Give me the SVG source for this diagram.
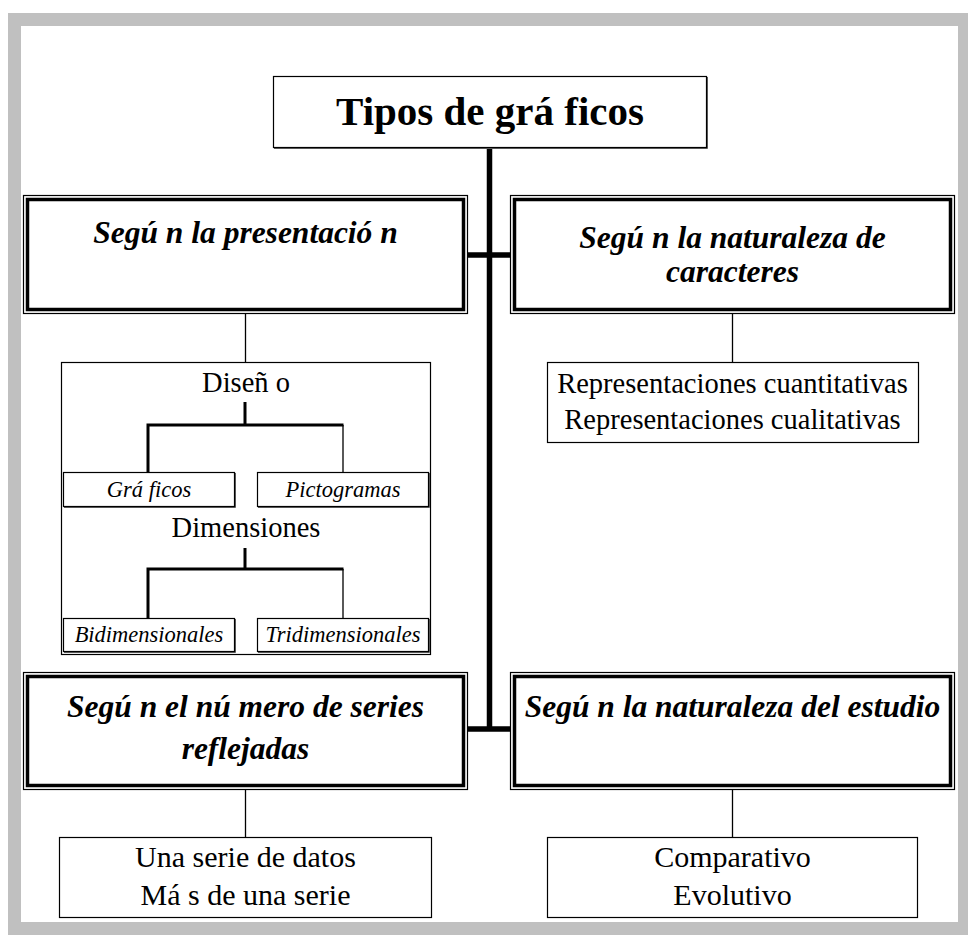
<svg xmlns="http://www.w3.org/2000/svg" width="968" height="935" viewBox="0 0 968 935">
<style>
text{font-family:"Liberation Serif","Times New Roman",serif;fill:#000;text-anchor:middle}
.title{font-size:41px;font-weight:bold}
.sec{font-size:31.5px;font-weight:bold;font-style:italic}
.it{font-size:22.5px;font-style:italic}
.rg{font-size:28.5px}
.bt{font-size:30px}
.thin{fill:#fff;stroke:#000;stroke-width:1.2}
.frame{fill:none;stroke:#000;stroke-width:1.2}
.shadow{fill:none;stroke:#555;stroke-width:1}
.outer{fill:#fff;stroke:#000;stroke-width:1.2}
.inner{fill:none;stroke:#000;stroke-width:3.5}
.c1{stroke:#000;stroke-width:1.3;fill:none}
.c3{stroke:#000;stroke-width:3;fill:none}
.c5{stroke:#000;stroke-width:5.5;fill:none}
</style>
<rect x="0" y="0" width="968" height="935" fill="#fff"/>
<path d="M8 13H968V935H8Z M21 26V922H958V26Z" fill="#c0c0c0" fill-rule="evenodd"/>

<g id="diseno-container">
<rect class="frame" x="61.5" y="362.5" width="369" height="292"/>
</g>

<g id="connectors">
<path class="c5" d="M489.5 148V731.5 M468 255H510 M468 729H510"/>
<path class="c1" d="M245.5 314V362 M732.5 314V362 M245.5 790V837 M732.5 790V837"/>
<path class="c3" d="M245 402V425 M146.5 425H343.5 M148 425V472 M245 548V569 M146.5 569H343.5 M148 569V618"/>
<path class="c1" d="M343 425V472 M343 569V618"/>
</g>

<g id="title">
<rect class="thin" x="273.5" y="76.5" width="433" height="71"/>
<path class="shadow" d="M707.5 77V148.5H274"/>
<text class="title" x="490" y="125">Tipos de grá ficos</text>
</g>

<g id="presentacion">
<rect class="outer" x="23.5" y="195.5" width="444" height="118"/>
<rect class="inner" x="27.5" y="199.5" width="436" height="110"/>
<text class="sec" x="245.5" y="243">Segú n la presentació n</text>
</g>

<g id="caracteres">
<rect class="outer" x="510.5" y="195.5" width="444" height="118"/>
<rect class="inner" x="514.5" y="199.5" width="436" height="110"/>
<text class="sec" x="732.5" y="248">Segú n la naturaleza de</text>
<text class="sec" x="732.5" y="282">caracteres</text>
</g>

<g id="series">
<rect class="outer" x="23.5" y="672.5" width="444" height="117"/>
<rect class="inner" x="27.5" y="676.5" width="436" height="109"/>
<text class="sec" x="245.5" y="717">Segú n el nú mero de series</text>
<text class="sec" x="245.5" y="759">reflejadas</text>
</g>

<g id="estudio">
<rect class="outer" x="510.5" y="672.5" width="444" height="117"/>
<rect class="inner" x="514.5" y="676.5" width="436" height="109"/>
<text class="sec" x="732.5" y="717">Segú n la naturaleza del estudio</text>
</g>

<g id="diseno">
<text class="rg" x="246" y="392">Diseñ o</text>
</g>
<g id="graficos">
<rect class="thin" x="63.5" y="472.5" width="171" height="34"/>
<path class="shadow" d="M235.5 473V507.5H64"/>
<text class="it" x="149" y="497">Grá ficos</text>
</g>
<g id="pictogramas">
<rect class="thin" x="257.5" y="472.5" width="171" height="34"/>
<path class="shadow" d="M429.5 473V507.5H258"/>
<text class="it" x="343" y="497">Pictogramas</text>
</g>
<g id="dimensiones">
<text class="rg" x="246" y="537">Dimensiones</text>
</g>
<g id="bidimensionales">
<rect class="thin" x="63.5" y="618.5" width="171" height="33"/>
<path class="shadow" d="M235.5 619V652.5H64"/>
<text class="it" x="149" y="642">Bidimensionales</text>
</g>
<g id="tridimensionales">
<rect class="thin" x="257.5" y="618.5" width="171" height="33"/>
<path class="shadow" d="M429.5 619V652.5H258"/>
<text class="it" x="343" y="642">Tridimensionales</text>
</g>

<g id="representaciones">
<rect class="thin" x="547.5" y="362.5" width="371" height="80"/>
<text class="rg" x="732.5" y="393">Representaciones cuantitativas</text>
<text class="rg" x="732.5" y="429">Representaciones cualitativas</text>
</g>

<g id="una-serie">
<rect class="thin" x="59.5" y="837.5" width="372" height="80"/>
<text class="bt" x="245.5" y="867">Una serie de datos</text>
<text class="bt" x="245.5" y="905">Má s de una serie</text>
</g>

<g id="comparativo">
<rect class="thin" x="547.5" y="837.5" width="370" height="80"/>
<text class="bt" x="732.5" y="867">Comparativo</text>
<text class="bt" x="732.5" y="905">Evolutivo</text>
</g>
</svg>
